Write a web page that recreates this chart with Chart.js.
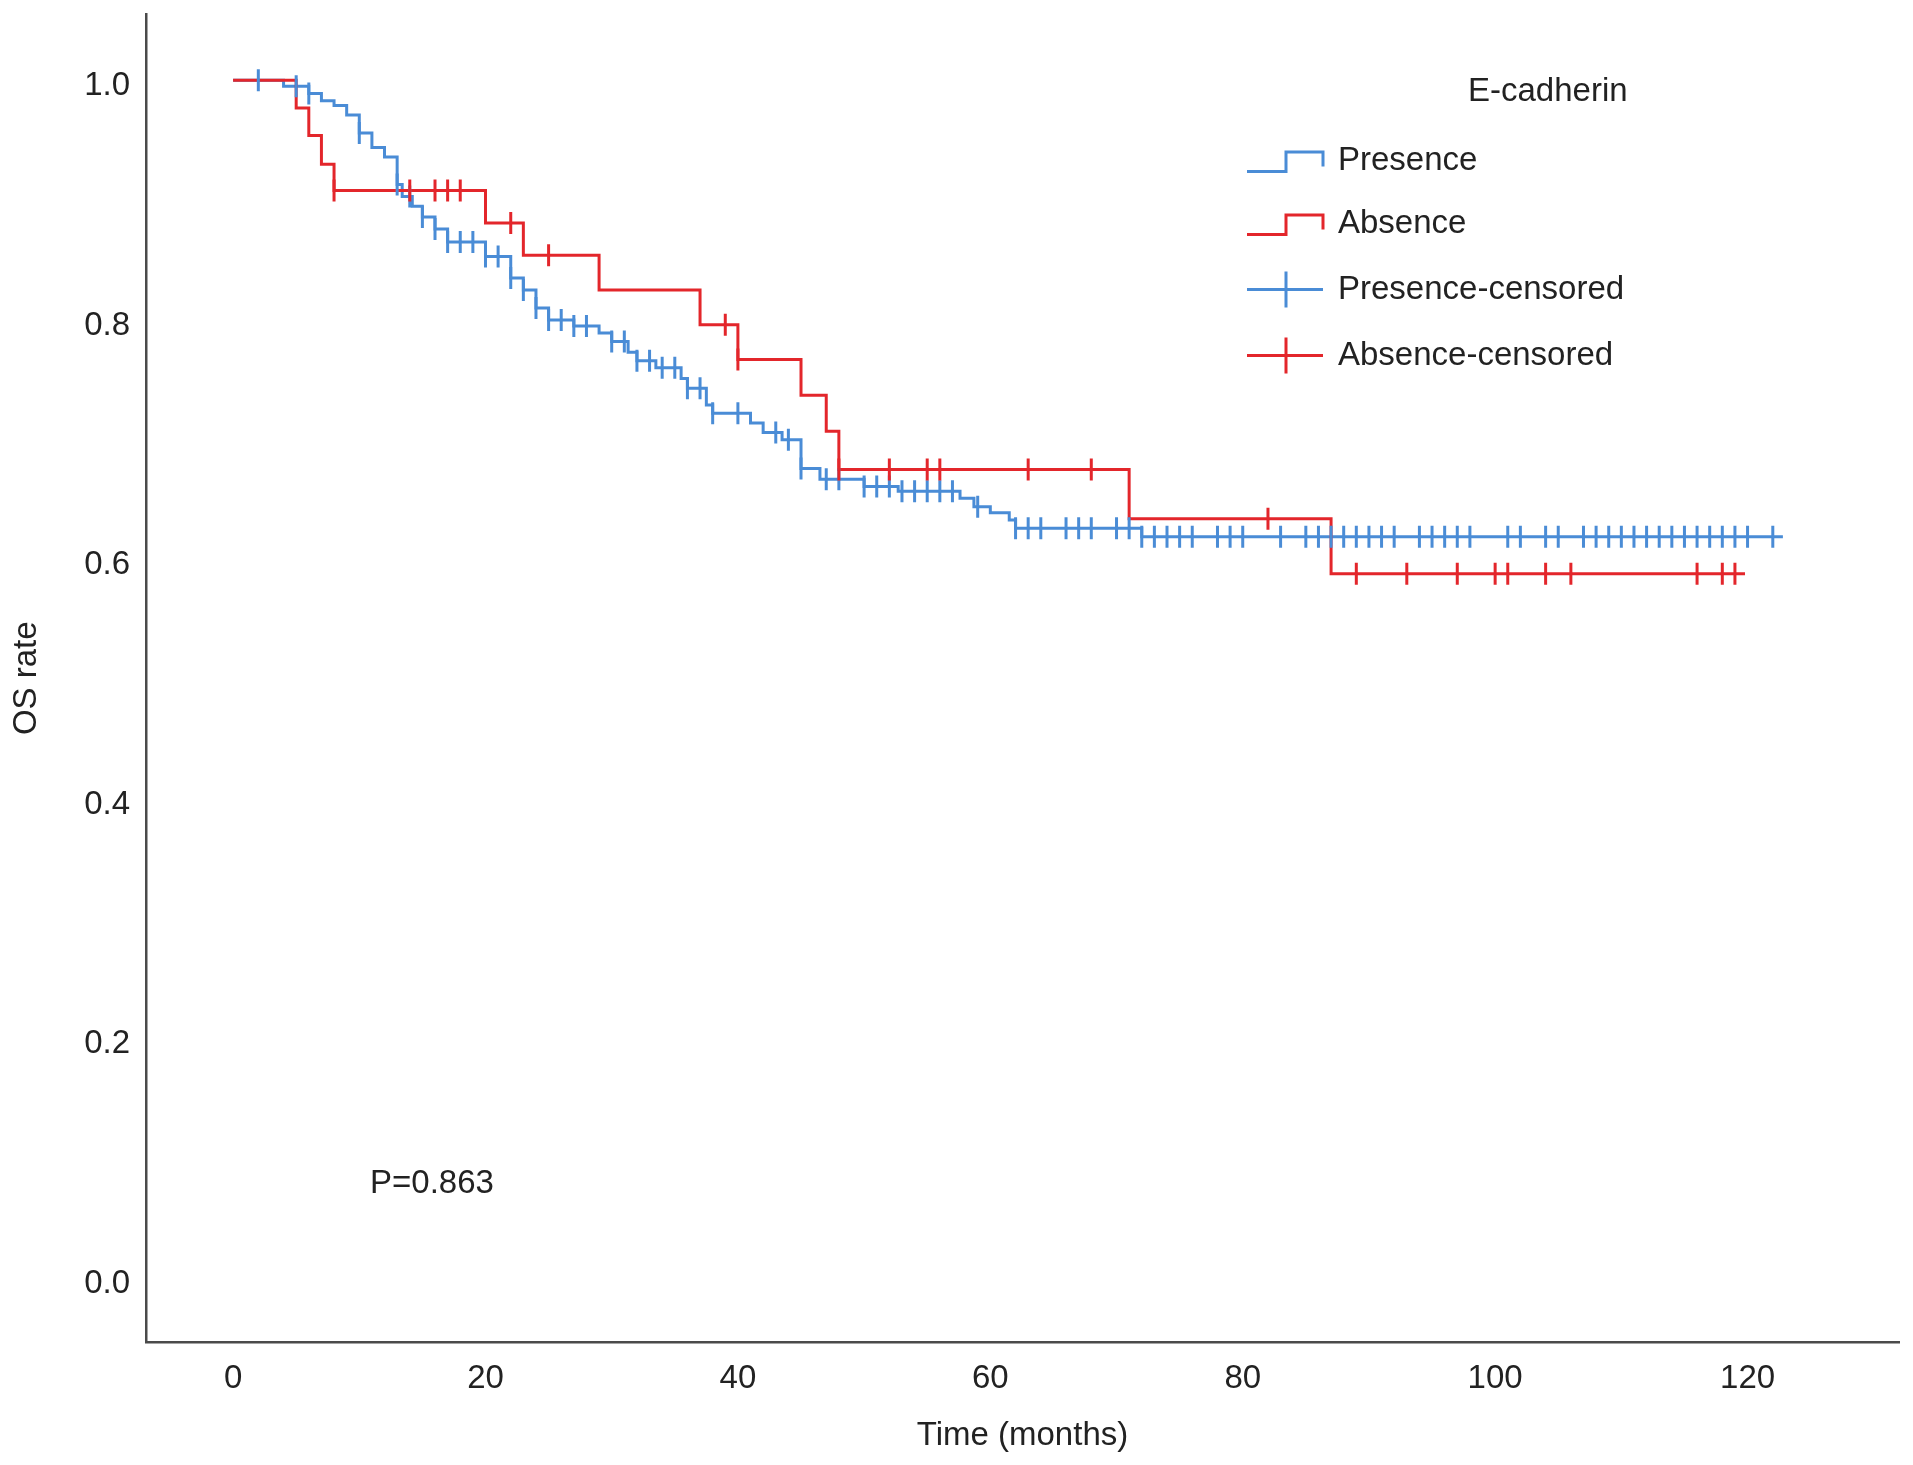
<!DOCTYPE html>
<html>
<head>
<meta charset="utf-8">
<script src="https://cdn.jsdelivr.net/npm/chart.js@4.4.0/dist/chart.umd.min.js"></script>
<style>
html, body { margin: 0; padding: 0; background: #ffffff; }
#wrap { width: 1913px; height: 1465px; position: relative; }
</style>
</head>
<body>
<div id="wrap"><canvas id="c"></canvas></div>
<script>
// ---------- data ----------
const xTickValues = [0, 20, 40, 60, 80, 100, 120];
const yTickValues = [0.0, 0.2, 0.4, 0.6, 0.8, 1.0];

// Presence (blue): times of drops and survival after each drop
const presenceDropTimes = [4, 6, 7, 8, 9, 10, 11, 12, 13, 13.4, 14.2, 15, 16, 17, 20, 22, 23, 24, 25, 27, 29, 30, 31.3, 32, 33.5, 35.5, 36, 37.5, 38, 41, 42, 43.5, 45, 46.5, 50, 52.7, 57.6, 58.7, 60, 61.5, 62, 72];
const presenceSurvival  = [0.995, 0.989, 0.983, 0.979, 0.971, 0.956, 0.944, 0.936, 0.913, 0.903, 0.895, 0.886, 0.876, 0.865, 0.853, 0.835, 0.825, 0.810, 0.800, 0.795, 0.789, 0.782, 0.773, 0.766, 0.760, 0.751, 0.743, 0.729, 0.722, 0.714, 0.706, 0.700, 0.676, 0.667, 0.661, 0.657, 0.651, 0.644, 0.639, 0.633, 0.626, 0.619];
const presenceCensorTimes = [2, 5, 6, 10, 13, 14, 15, 16, 17, 18, 19, 20, 21, 22, 23, 24, 25, 26, 27, 28, 30, 31, 32, 33, 34, 35, 36, 37, 38, 40, 43, 44, 45, 47, 48, 50, 51, 52, 53, 54, 55, 56, 57, 59, 62, 63, 64, 66, 67, 68, 70, 71, 72, 73, 74, 75, 76, 78, 79, 80, 83, 85, 86, 87, 88, 89, 90, 91, 92, 94, 95, 96, 97, 98, 101, 102, 104, 105, 107, 108, 109, 110, 111, 112, 113, 114, 115, 116, 117, 118, 119, 120, 122];
const presenceLastTime = 122.8;

// Absence (red)
const absenceDropTimes = [5, 6, 7, 8, 20, 23, 29, 37, 40, 45, 47, 48, 71, 87];
const absenceSurvival  = [0.977, 0.954, 0.930, 0.908, 0.881, 0.854, 0.825, 0.796, 0.767, 0.737, 0.707, 0.675, 0.634, 0.588];
const absenceCensorTimes = [8, 14, 16, 17, 18, 22, 25, 39, 40, 48, 52, 55, 56, 63, 68, 82, 89, 93, 97, 100, 101, 104, 106, 116, 118, 119];
const absenceLastTime = 119.8;

const seriesNames = ['Presence', 'Absence', 'Presence-censored', 'Absence-censored'];
const legendTitle = 'E-cadherin';
const pValueText = 'P=0.863';
const xAxisTitle = 'Time (months)';
const yAxisTitle = 'OS rate';

// ---------- helpers ----------
const FONT = '"Liberation Sans", Arial, Helvetica, sans-serif';
const BLUE = '#4A8CD6';
const RED = '#E3262B';
const TEXT = '#222222';

function stepPoints(times, surv, last) {
  const pts = [{ x: 0, y: 1 }];
  times.forEach((t, i) => pts.push({ x: t, y: surv[i] }));
  pts.push({ x: last, y: surv[surv.length - 1] });
  return pts;
}
function survivalAt(times, surv, t) {
  let s = 1;
  for (let i = 0; i < times.length; i++) if (times[i] <= t + 1e-9) s = surv[i];
  return s;
}
function censorPoints(censor, times, surv) {
  return censor.map(t => ({ x: t, y: survivalAt(times, surv, t) }));
}

const legendPlugin = {
  id: 'kmLegend',
  afterDatasetsDraw(chart, args, o) {
    const ctx = chart.ctx;
    ctx.save();
    ctx.font = o.fontSize + 'px ' + FONT;
    ctx.fillStyle = TEXT;
    ctx.textBaseline = 'middle';
    ctx.textAlign = 'left';
    ctx.fillText(legendTitle, o.titleX, o.titleY);
    const colors = [BLUE, RED, BLUE, RED];
    seriesNames.forEach((name, i) => {
      const cy = o.rowY[i];
      ctx.strokeStyle = colors[i];
      ctx.lineWidth = 3;
      ctx.lineJoin = 'miter';
      ctx.beginPath();
      if (i < 2) {
        ctx.moveTo(o.iconX1, cy + 11);
        ctx.lineTo(o.iconMid, cy + 11);
        ctx.lineTo(o.iconMid, cy - 8.5);
        ctx.lineTo(o.iconX2, cy - 8.5);
        ctx.lineTo(o.iconX2, cy + 6);
      } else {
        ctx.moveTo(o.iconX1, cy);
        ctx.lineTo(o.iconX2, cy);
        ctx.moveTo(o.iconMid, cy - 18);
        ctx.lineTo(o.iconMid, cy + 18);
      }
      ctx.stroke();
      ctx.fillStyle = TEXT;
      ctx.fillText(name, o.textX, cy);
    });
    ctx.fillText(pValueText, o.pX, o.pY);
    ctx.restore();
  }
};

const ctx = document.getElementById('c');
new Chart(ctx, {
  type: 'scatter',
  data: {
    datasets: [
      {
        label: seriesNames[0],
        data: stepPoints(presenceDropTimes, presenceSurvival, presenceLastTime),
        showLine: true, stepped: 'before', borderColor: BLUE, borderWidth: 3,
        pointRadius: 0, fill: false, order: 4
      },
      {
        label: seriesNames[1],
        data: stepPoints(absenceDropTimes, absenceSurvival, absenceLastTime),
        showLine: true, stepped: 'before', borderColor: RED, borderWidth: 3,
        pointRadius: 0, fill: false, order: 3
      },
      {
        label: seriesNames[2],
        data: censorPoints(presenceCensorTimes, presenceDropTimes, presenceSurvival),
        showLine: false, pointStyle: 'line', rotation: 90, pointRadius: 11,
        borderColor: BLUE, backgroundColor: BLUE, pointBorderWidth: 3, borderWidth: 3, order: 2
      },
      {
        label: seriesNames[3],
        data: censorPoints(absenceCensorTimes, absenceDropTimes, absenceSurvival),
        showLine: false, pointStyle: 'line', rotation: 90, pointRadius: 11,
        borderColor: RED, backgroundColor: RED, pointBorderWidth: 3, borderWidth: 3, order: 1
      }
    ]
  },
  options: {
    responsive: true,
    maintainAspectRatio: false,
    animation: false,
    events: [],
    layout: { padding: { top: 14.5, right: 6, bottom: 0, left: 0 } },
    plugins: {
      legend: { display: false },
      tooltip: { enabled: false },
      kmLegend: {
        fontSize: 33,
        titleX: 1468, titleY: 91.5,
        iconX1: 1247, iconX2: 1323, iconMid: 1286, textX: 1338,
        rowY: [160.5, 223.5, 289.5, 355.5],
        pX: 370, pY: 1184
      }
    },
    scales: {
      x: {
        type: 'linear',
        min: -6.9, max: 132.0,
        afterBuildTicks: s => { s.ticks = xTickValues.map(v => ({ value: v })); },
        afterFit: s => { s.height = 123; s.paddingLeft = 0; s.paddingRight = 0; },
        grid: { display: true, drawOnChartArea: false, drawTicks: false, color: 'rgba(0,0,0,0)' },
        border: { display: true, color: '#4a4a4a', width: 2.5 },
        ticks: { padding: 17, color: TEXT, font: { family: FONT, size: 33 }, maxRotation: 0, autoSkip: false },
        title: { display: true, text: xAxisTitle, color: TEXT, font: { family: FONT, size: 33 }, padding: { top: 0, bottom: 9 } }
      },
      y: {
        type: 'linear',
        min: -0.0534, max: 1.055,
        afterBuildTicks: s => { s.ticks = yTickValues.map(v => ({ value: v })); },
        afterFit: s => { s.width = 146; s.paddingTop = 0; s.paddingBottom = 0; },
        grid: { display: true, drawOnChartArea: false, drawTicks: false, color: 'rgba(0,0,0,0)' },
        border: { display: true, color: '#4a4a4a', width: 2.5 },
        ticks: { padding: 16, labelOffset: 5.5, color: TEXT, font: { family: FONT, size: 33 }, autoSkip: false,
                 callback: v => Number(v).toFixed(1) },
        title: { display: true, text: yAxisTitle, color: TEXT, font: { family: FONT, size: 33 }, padding: { top: 7, bottom: 0 } }
      }
    }
  },
  plugins: [legendPlugin]
});
</script>
</body>
</html>
